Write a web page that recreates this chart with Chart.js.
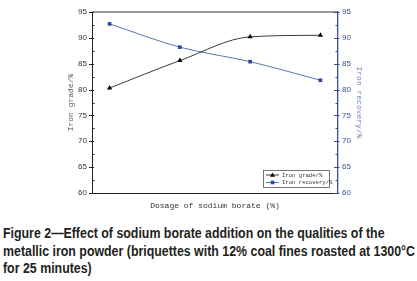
<!DOCTYPE html>
<html><head><meta charset="utf-8">
<script src="https://cdn.jsdelivr.net/npm/chart.js@4"></script>
<style>
html,body{margin:0;padding:0;background:#fff;width:417px;height:281px;overflow:hidden}
#wrap{position:absolute;left:0;top:0;width:417px;height:216px}
#cap{position:absolute;left:3px;top:225px;font:bold 14px 'Liberation Sans',Arial,sans-serif;line-height:17.5px;color:#231f20;white-space:nowrap;transform-origin:0 0}
#cap span{display:block}
#cap span b{font-weight:bold;display:inline-block}
</style></head><body>
<div id="wrap"><canvas id="c" width="417" height="216"></canvas></div>
<div id="cap"><span><b id="l1">Figure 2—Effect of sodium borate addition on the qualities of the</b></span><span><b id="l2">metallic iron powder (briquettes with 12% coal fines roasted at 1300°C</b></span><span><b id="l3">for 25 minutes)</b></span></div>
<script>
const dosage = [0, 2, 4, 6];
const ironGrade = [80.3, 85.6, 90.2, 90.5];
const ironRecovery = [92.7, 88.2, 85.4, 81.8];
const seriesLabels = ['Iron grade/%', 'Iron recovery/%'];
const xTitle = 'Dosage of sodium borate (%)';
const yLeftTitle = 'Iron grade/%';
const yRightTitle = 'Iron recovery/%';

// condense caption horizontally to fit the reference width
(function(){
  const w = document.getElementById('l2').getBoundingClientRect().width;
  const s = 412 / w;
  document.getElementById('cap').style.transform = 'scaleX(' + s + ')';
})();

const BLUE = '#3a4f96';
const MONO = "'Liberation Mono','DejaVu Sans Mono',monospace";
const NARROW = "'Liberation Sans Narrow','Liberation Sans',Arial,sans-serif";

const tickPlugin = {
  id: 'tickMarks',
  afterDraw(chart) {
    const ctx = chart.ctx, ca = chart.chartArea;
    ctx.save();
    ctx.strokeStyle = '#7a7a7a'; ctx.lineWidth = 1.5;
    ctx.beginPath(); ctx.moveTo(ca.left, ca.top); ctx.lineTo(ca.right, ca.top); ctx.stroke();
    ctx.lineWidth = 1;
    const xs = chart.scales.x;
    ctx.strokeStyle = '#222';
    xs.ticks.forEach(t => {
      if (!Number.isInteger(t.value)) return;
      const px = Math.round(xs.getPixelForValue(t.value)) + 0.5;
      const len = t.value % 2 === 0 ? 4 : 2.5;
      ctx.beginPath(); ctx.moveTo(px, ca.bottom); ctx.lineTo(px, ca.bottom - len); ctx.stroke();
    });
    const yl = chart.scales.y;
    yl.ticks.forEach(t => {
      const py = Math.round(yl.getPixelForValue(t.value)) + 0.5;
      const major = t.value % 5 === 0;
      ctx.beginPath();
      ctx.moveTo(ca.left - (major ? 3 : 0), py); ctx.lineTo(ca.left + (major ? 2 : 2.5), py); ctx.stroke();
    });
    const yr = chart.scales.y1;
    ctx.strokeStyle = BLUE;
    yr.ticks.forEach(t => {
      const py = Math.round(yr.getPixelForValue(t.value)) + 0.5;
      const major = t.value % 5 === 0;
      ctx.beginPath();
      ctx.moveTo(ca.right - (major ? 4 : 2.5), py); ctx.lineTo(ca.right + (major ? 1.5 : 0), py); ctx.stroke();
    });
    const bx = ca.right - 75, by = ca.bottom - 23, bw = 66, bh = 17;
    ctx.fillStyle = '#fff'; ctx.fillRect(bx, by, bw, bh);
    ctx.strokeStyle = '#555'; ctx.lineWidth = 0.8; ctx.strokeRect(bx + 0.5, by + 0.5, bw, bh);
    chart.data.datasets.forEach((ds, i) => {
      const yy = by + 5 + i * 7.5;
      ctx.strokeStyle = ds.borderColor; ctx.lineWidth = 1;
      ctx.beginPath(); ctx.moveTo(bx + 3, yy); ctx.lineTo(bx + 16, yy); ctx.stroke();
      ctx.fillStyle = ds.backgroundColor;
      const mx = bx + 9.5;
      if (ds.pointStyle === 'triangle') {
        ctx.beginPath(); ctx.moveTo(mx, yy - 2.5); ctx.lineTo(mx + 2.5, yy + 1.8); ctx.lineTo(mx - 2.5, yy + 1.8); ctx.closePath(); ctx.fill();
      } else {
        ctx.fillRect(mx - 1.8, yy - 1.8, 3.6, 3.6);
      }
      ctx.fillStyle = '#333';
      ctx.font = '5.6px ' + MONO;
      ctx.textBaseline = 'middle';
      ctx.fillText(ds.label, bx + 19, yy + 0.3);
    });
    ctx.restore();
  }
};

new Chart(document.getElementById('c'), {
  type: 'line',
  data: {
    datasets: [
      {
        label: seriesLabels[0],
        data: dosage.map((d, i) => ({x: d, y: ironGrade[i]})),
        borderColor: '#3c3c3c', backgroundColor: '#000',
        borderWidth: 1, pointStyle: 'triangle', pointRadius: 3, pointBorderWidth: 0,
        cubicInterpolationMode: 'monotone', yAxisID: 'y'
      },
      {
        label: seriesLabels[1],
        data: dosage.map((d, i) => ({x: d, y: ironRecovery[i]})),
        borderColor: '#5b74b3', backgroundColor: '#2c4a99',
        borderWidth: 1, pointStyle: 'rect', pointRadius: 2.6, pointBorderWidth: 0,
        cubicInterpolationMode: 'monotone', yAxisID: 'y1'
      }
    ]
  },
  options: {
    responsive: false, animation: false, devicePixelRatio: 1,
    layout: {padding: {left: 66, right: 53, top: 12, bottom: 5}},
    plugins: {legend: {display: false}, tooltip: {enabled: false}},
    scales: {
      x: {
        type: 'linear', min: -0.5, max: 6.5,
        ticks: {stepSize: 1, autoSkip: false, maxRotation: 0, padding: 3,
          callback: v => (Number.isInteger(v) && v % 2 === 0) ? String(v) : '',
          font: {family: NARROW, size: 8, weight: 'bold'}, color: '#222'},
        grid: {display: false, drawTicks: false},
        border: {color: '#222', width: 1},
        title: {display: true, text: xTitle, font: {family: MONO, size: 8}, color: '#333', padding: 0},
        afterFit: s => { s.height = 18; }
      },
      y: {
        position: 'left', min: 60, max: 95,
        ticks: {stepSize: 2.5, autoSkip: false, padding: 5,
          callback: v => v % 5 === 0 ? String(v) : '',
          font: {family: NARROW, size: 8}, color: '#333'},
        grid: {display: false, drawTicks: false},
        border: {color: '#222', width: 1},
        title: {display: true, text: yLeftTitle, font: {family: MONO, size: 8}, color: '#555', padding: 0},
        afterFit: s => { s.width = 26; }
      },
      y1: {
        position: 'right', min: 60, max: 95,
        ticks: {stepSize: 2.5, autoSkip: false, padding: 4,
          callback: v => v % 5 === 0 ? String(v) : '',
          font: {family: NARROW, size: 8}, color: BLUE},
        grid: {display: false, drawTicks: false},
        border: {color: BLUE, width: 1.3},
        title: {display: true, text: yRightTitle, font: {family: MONO, size: 8}, color: '#6f80b8', padding: 0},
        afterFit: s => { s.width = 26; }
      }
    }
  },
  plugins: [tickPlugin]
});
</script>
</body></html>
